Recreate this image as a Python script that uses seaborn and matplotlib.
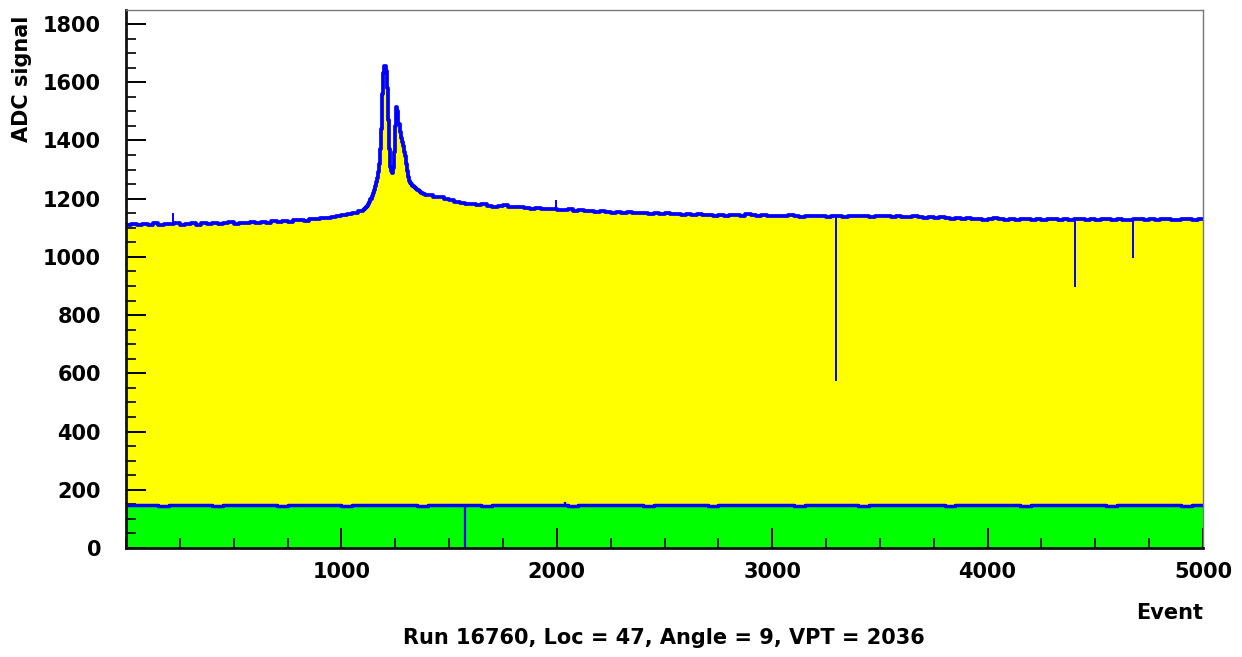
import numpy as np
import matplotlib
matplotlib.use("Agg")
import matplotlib.pyplot as plt
import seaborn as sns
import pandas as pd
from matplotlib.ticker import MultipleLocator, FixedLocator

# ---------------- data ----------------
# upper (yellow) histogram: three segments of bins
upper_a_start, upper_a_step = 0, 25
upper_a = [1110, 1114, 1108, 1113, 1111, 1115, 1109, 1114, 1112, 1118,
           1110, 1113, 1116, 1111, 1115, 1113, 1117, 1112, 1116, 1119,
           1114, 1118, 1116, 1120, 1117, 1121, 1118, 1122, 1120, 1124,
           1121, 1125, 1127, 1124, 1129, 1131, 1133, 1135, 1138, 1141,
           1144, 1148, 1152, 1157]
upper_b_start, upper_b_step = 1100, 5
upper_b = [1162, 1165, 1168, 1172, 1176, 1182, 1190, 1198, 1208, 1218,
           1230, 1245, 1258, 1272, 1290, 1320, 1370, 1440, 1560, 1630,
           1655, 1640, 1580, 1470, 1370, 1310, 1295, 1288, 1305, 1360,
           1450, 1515, 1500, 1455, 1430, 1410, 1395, 1380, 1360, 1345,
           1320, 1295, 1275, 1262, 1255, 1250, 1245, 1240, 1237, 1234,
           1230, 1228, 1225, 1222, 1220, 1218, 1217, 1215, 1213, 1212]
upper_c_start, upper_c_step = 1400, 25
upper_c = [1211, 1206, 1204, 1198, 1195, 1189, 1186, 1183, 1181, 1178,
           1180, 1175, 1173, 1176, 1178, 1172, 1170, 1173, 1168, 1166,
           1169, 1165, 1163, 1166, 1162, 1160, 1163, 1158, 1160, 1156,
           1158, 1155, 1157, 1153, 1150, 1154, 1151, 1153, 1149, 1152,
           1150, 1148, 1151, 1147, 1149, 1146, 1148, 1145, 1147, 1144,
           1146, 1143, 1145, 1142, 1144, 1141, 1143, 1145, 1142, 1146,
           1144, 1141, 1143, 1140, 1142, 1139, 1141, 1143, 1140, 1138,
           1141, 1139, 1142, 1140, 1138, 1141, 1139, 1137, 1140, 1142,
           1139, 1141, 1138, 1140, 1142, 1139, 1137, 1140, 1138, 1136,
           1139, 1137, 1135, 1138, 1134, 1136, 1133, 1131, 1134, 1130,
           1132, 1129, 1131, 1128, 1130, 1132, 1129, 1127, 1130, 1128,
           1131, 1129, 1127, 1130, 1128, 1131, 1129, 1127, 1130, 1128,
           1131, 1129, 1127, 1130, 1128, 1131, 1129, 1127, 1130, 1128,
           1126, 1129, 1131, 1128, 1130, 1127, 1129, 1131, 1128, 1126,
           1129, 1131, 1128, 1130]
upper_spike_event = [219, 1995, 3296, 4405, 4676]
upper_spike_adc = [1152, 1195, 574, 897, 996]

# lower (green) histogram
lower_start, lower_step = 0, 50
lower = [147, 146, 148, 145, 147, 149, 146, 147, 145, 148,
         147, 146, 149, 147, 145, 148, 146, 147, 148, 146,
         145, 147, 148, 146, 149, 147, 146, 145, 148, 147,
         146, 148, 147, 145, 147, 149, 146, 147, 148, 146,
         147, 145, 148, 146, 147, 149, 147, 146, 145, 148,
         147, 146, 148, 147, 145, 147, 148, 146, 147, 149,
         146, 147, 145, 148, 147, 146, 148, 147, 145, 147,
         148, 146, 147, 149, 146, 147, 145, 148, 147, 146,
         147, 148, 146, 145, 147, 148, 146, 147, 149, 146,
         147, 145, 148, 147, 146, 148, 147, 146, 145, 148]
lower_spike_event = [1572, 2037]
lower_spike_adc = [0, 157]

x_max = 5000
y_max = 1848
x_ticks = [1000, 2000, 3000, 4000, 5000]
y_ticks = [0, 200, 400, 600, 800, 1000, 1200, 1400, 1600, 1800]
title = "Run 16760, Loc = 47, Angle = 9, VPT = 2036"
x_label = "Event"
y_label = "ADC signal"

# ---------------- build step tables ----------------
def seg(start, step, vals, end=None):
    x = start + step * np.arange(len(vals))
    v = np.asarray(vals, dtype=float)
    if end is not None:
        keep = x < end
        x, v = x[keep], v[keep]
    return x, v

xa, va = seg(upper_a_start, upper_a_step, upper_a, upper_b_start)
xb, vb = seg(upper_b_start, upper_b_step, upper_b, upper_c_start)
xc, vc = seg(upper_c_start, upper_c_step, upper_c, x_max)
ux = np.concatenate([xa, xb, xc, [x_max]])
uy = np.concatenate([va, vb, vc, [vc[-1]]])
up_df = pd.DataFrame({"event": ux, "adc": uy})

lx, lv = seg(lower_start, lower_step, lower, x_max)
lx = np.concatenate([lx, [x_max]])
ly = np.concatenate([lv, [lv[-1]]])
lo_df = pd.DataFrame({"event": lx, "adc": ly})

# ---------------- plot ----------------
sns.set_theme(style="ticks")
plt.rcParams["font.family"] = ["DejaVu Sans"]
plt.rcParams["text.color"] = "black"
plt.rcParams["xtick.color"] = "black"
plt.rcParams["ytick.color"] = "black"
plt.rcParams["xtick.labelcolor"] = "black"
plt.rcParams["ytick.labelcolor"] = "black"
fig = plt.figure(figsize=(12.42, 6.57), dpi=100)
ax = fig.add_axes([126 / 1242, 1 - 548 / 657, (1203 - 126) / 1242, (548 - 10) / 657])
ax.set_axisbelow(False)

blue = "#0000ff"
ax.fill_between(up_df["event"], 0, up_df["adc"], step="post", color="#ffff00", lw=0, zorder=1)
ax.fill_between(lo_df["event"], 0, lo_df["adc"], step="post", color="#00ff00", lw=0, zorder=2)
sns.lineplot(data=up_df, x="event", y="adc", estimator=None, sort=False,
             drawstyle="steps-post", color=blue, lw=2.7, ax=ax, zorder=3)
sns.lineplot(data=lo_df, x="event", y="adc", estimator=None, sort=False,
             drawstyle="steps-post", color=blue, lw=2.5, ax=ax, zorder=3)

def level(df, e):
    idx = np.searchsorted(df["event"].values, e, side="right") - 1
    return df["adc"].values[max(idx, 0)]

for e, v in zip(upper_spike_event, upper_spike_adc):
    ax.vlines(e, v, level(up_df, e), color=blue, lw=1.4, zorder=3)
for e, v in zip(lower_spike_event, lower_spike_adc):
    ax.vlines(e, v, level(lo_df, e), color=blue, lw=1.6, zorder=3)

ax.set_xlim(0, x_max)
ax.set_ylim(0, y_max)
ax.xaxis.set_major_locator(FixedLocator(x_ticks))
ax.xaxis.set_minor_locator(MultipleLocator(250))
ax.yaxis.set_major_locator(FixedLocator(y_ticks))
ax.yaxis.set_minor_locator(MultipleLocator(50))
ax.tick_params(which="major", direction="in", length=14.5, width=1.4, color="black",
               labelsize=15, pad=10, labelcolor="black")
ax.tick_params(which="minor", direction="in", length=7.5, width=1.2, color="black")
ax.tick_params(axis="y", which="major", pad=18)
for lab in ax.get_xticklabels() + ax.get_yticklabels():
    lab.set_fontweight("bold")
ax.set_xlabel("")
ax.set_ylabel("")

for s in ["left", "bottom"]:
    ax.spines[s].set_linewidth(2.0)
    ax.spines[s].set_color("#111111")
for s in ["top", "right"]:
    ax.spines[s].set_visible(True)
    ax.spines[s].set_linewidth(1.0)
    ax.spines[s].set_color("#777777")
for s in ax.spines.values():
    s.set_zorder(5)

fig.text(1203 / 1242, 1 - 613 / 657, x_label, ha="right", va="center",
         fontsize=15, fontweight="bold", color="black")
fig.text(22 / 1242, 1 - 79 / 657, y_label, ha="center", va="center", rotation=90,
         fontsize=15, fontweight="bold", color="black")
fig.text(664 / 1242, 1 - 638 / 657, title, ha="center", va="center",
         fontsize=15, fontweight="bold", color="black")

fig.savefig("out.png", dpi=100, facecolor="white")
